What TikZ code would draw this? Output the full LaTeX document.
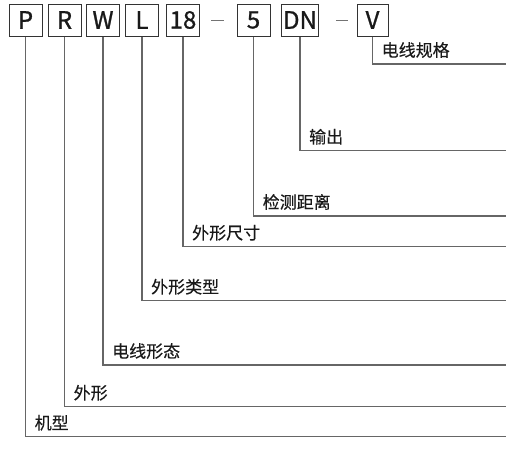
\documentclass[tikz,border=0pt]{standalone}
\usepackage{fontspec}
\newfontfamily\cjk[FakeBold=0.3]{Noto Sans CJK SC}
\newfontfamily\cjkcode[FakeBold=1]{Noto Sans CJK SC}
\usetikzlibrary{positioning}

\begin{document}
\begin{tikzpicture}[x=1pt,y=-1pt,
  code/.style={draw=black!80,line width=1pt,minimum height=32pt,minimum width=33pt,
    inner sep=2pt,text=black!90,font=\cjkcode\fontsize{24}{24}\selectfont},
  sepmark/.style={minimum width=12pt,inner sep=0pt},
  lead/.style={draw=black!60,line width=1.1pt},
  tag/.style={anchor=base west,inner sep=0pt,text=black!90,font=\cjk\fontsize{17}{17}\selectfont}]
  \useasboundingbox (0,0) rectangle (506,448);

  %型号
  \node[code] (P)  at (25.5,20)  {P};
  \node[code] (R)  at (64.5,20)  {R};
  \node[code] (W)  at (103,20)   {W};
  \node[code] (L)  at (142,20)   {L};
  \node[code] (S)  at (183,20)   {18};
  \node[sepmark] (d1) at (217.5,20) {};
  \node[code] (D)  at (253.5,20) {5};
  \node[code] (N)  at (300,20)   {DN};
  \node[sepmark] (d2) at (342,20)   {};
  \node[code,minimum width=31pt] (V)  at (372.5,20) {V};
  \draw[black!55,line width=1pt] (d1.west) -- (d1.east) (d2.west) -- (d2.east);

  %说明
  \foreach \n/\y/\t in {V/64/电线规格, N/150.7/输出, D/216/检测距离, S/246.7/外形尺寸,
      L/300.7/外形类型, W/365/电线形态, R/406.7/外形, P/436.7/机型}  {
    \coordinate (\n-c) at (\n.south |- 0,\y);
    \coordinate (\n-e) at (506,\y);
    \draw[lead] (\n.south) -- (\n-c) -- (\n-e);
    \node[tag] (\n-t) at ([xshift=9pt,yshift=7.5pt]\n-c) {\t};
  }

\end{tikzpicture}
\end{document}
